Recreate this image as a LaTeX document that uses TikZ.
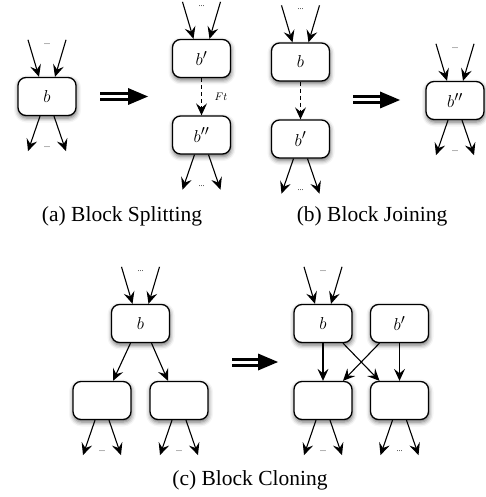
\documentclass[tikz,border=0pt]{standalone}
\usepackage{fontspec}
\setmainfont{Liberation Serif}
\usetikzlibrary{arrows.meta,calc,shadows.blur}

\tikzset{
  blk/.style={draw, line width=1.3pt, fill=white, rounded corners=8pt,
    minimum width=58pt, minimum height=38pt, inner sep=0pt,
    font=\fontsize{19}{21}\selectfont,
    blur shadow={shadow xshift=0.5pt, shadow yshift=-2.5pt,
      shadow blur radius=4.5pt, shadow opacity=60}},
  flow/.style={line width=1.1pt, -{Stealth[length=12pt,width=11pt,inset=4.5pt]}},
  fall/.style={flow, dash pattern=on 4pt off 3pt},
  dots/.style={font=\fontsize{8}{9}\selectfont, inner sep=0pt},
  caption/.style={font=\fontsize{21.5}{25}\selectfont, inner sep=0pt},
  move/.style={line width=3pt, double=white, double distance=3pt},
}

% two incoming edges with an ellipsis above a block
\newcommand\fanin[1]{%
  \coordinate (#1-in1) at ($(#1.north)+(-19,-37)$);
  \coordinate (#1-in2) at ($(#1.north)+(19,-37)$);
  \draw[flow] (#1-in1) -- ($(#1.north)+(-8,0)$);
  \draw[flow] (#1-in2) -- ($(#1.north)+(8,0)$);
  \node[dots] (#1-din) at ($(#1.north)+(0,-33)$) {...};}

% two outgoing edges with an ellipsis below a block
\newcommand\fanout[1]{%
  \coordinate (#1-out1) at ($(#1.south)+(-19,35)$);
  \coordinate (#1-out2) at ($(#1.south)+(19,35)$);
  \draw[flow] ($(#1.south)+(-7,0)$) -- (#1-out1);
  \draw[flow] ($(#1.south)+(7,0)$) -- (#1-out2);
  \node[dots] (#1-dout) at ($(#1.south)+(0,31)$) {...};}

% hollow transformation arrow
\newcommand\bigmove[3]{%
  \coordinate (#1-s) at (#2);
  \coordinate (#1-e) at (#3);
  \draw[move] (#1-s) -- ($(#1-e)+(-18,0)$);
  \fill ($(#1-e)+(-20,-8.5)$) -- (#1-e) -- ($(#1-e)+(-20,8.5)$) -- cycle;}

\begin{document}
\begin{tikzpicture}[x=1pt, y=-1pt]
\useasboundingbox (0,0) rectangle (486,497);

% ---- (a) block splitting
\node[blk] (Ab)  at (47,96.5)   {$b$};
\node[blk] (Ab1) at (201.5,58.5) {$b'$};
\node[blk] (Ab2) at (201.5,135)  {$b''$};
\fanin{Ab}\fanout{Ab}
\fanin{Ab1}\fanout{Ab2}
\draw[fall] (Ab1) -- (Ab2);
\node[font=\fontsize{11}{13}\selectfont] (Aft) at (221,97) {$Ft$};
\bigmove{mvA}{100,96.5}{148,96.5}
\node[caption] (capA) at (122,216) {(a) Block Splitting};

% ---- (b) block joining
\node[blk] (Bb)  at (300.5,62)  {$b$};
\node[blk] (Bb1) at (300.5,139) {$b'$};
\node[blk] (Bb2) at (455,100.5) {$b''$};
\fanin{Bb}\fanout{Bb1}
\fanin{Bb2}\fanout{Bb2}
\draw[fall] (Bb) -- (Bb1);
\bigmove{mvB}{353,100}{400,100}
\node[caption] (capB) at (372,216) {(b) Block Joining};

% ---- (c) block cloning
\node[blk] (Cb) at (140.5,323.5) {$b$};
\node[blk] (Cl) at (102,400.5) {};
\node[blk] (Cr) at (179,400.5) {};
\fanin{Cb}\fanout{Cl}\fanout{Cr}
\draw[flow] ($(Cb.south)+(-10,0)$) -- ($(Cl.north)+(11,0)$);
\draw[flow] ($(Cb.south)+(11,0)$) -- ($(Cr.north)+(-11,0)$);
\bigmove{mvC}{232,362}{278,362}

\node[blk] (Db)  at (323,323.5)   {$b$};
\node[blk] (Db1) at (399.5,323.5) {$b'$};
\node[blk] (Dl)  at (323,400.5)   {};
\node[blk] (Dr)  at (399.5,400.5) {};
\fanin{Db}\fanout{Dl}\fanout{Dr}
\draw[flow] (Db) -- (Dl);
\draw[flow] ($(Db.south)+(20,0)$) -- ($(Dr.north)+(-20,0)$);
\draw[flow] ($(Db1.south)+(-20,0)$) -- ($(Dl.north)+(20,0)$);
\draw[flow] (Db1) -- (Dr);
\node[caption] (capC) at (250,480) {(c) Block Cloning};
\end{tikzpicture}
\end{document}
